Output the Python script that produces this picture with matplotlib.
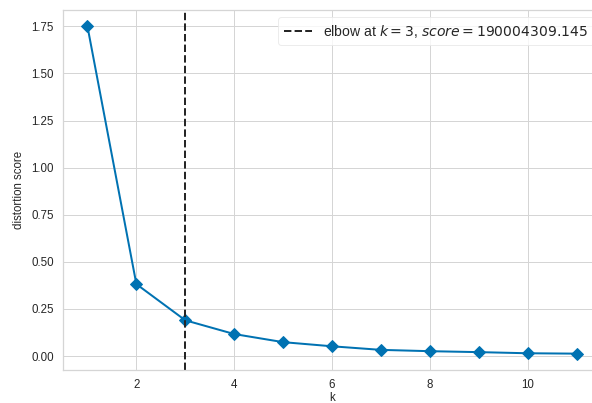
import matplotlib as mpl
mpl.use("Agg")
import matplotlib.pyplot as plt
import numpy as np

# distortion score per k (in units of 1e9, offset text is cropped in the original)
k_values = [1, 2, 3, 4, 5, 6, 7, 8, 9, 10, 11]
distortion = [1.750, 0.382, 0.190, 0.117, 0.074, 0.052, 0.033, 0.026, 0.021, 0.015, 0.013]
elbow_k = 3
elbow_score = 190004309.145
yticks = [0.00, 0.25, 0.50, 0.75, 1.00, 1.25, 1.50, 1.75]

mpl.rcParams.update({
    "font.family": ["Liberation Sans", "DejaVu Sans"],
    "mathtext.fontset": "dejavusans",
    "axes.edgecolor": "#d5d5d5",
    "axes.linewidth": 1.25,
    "grid.color": "#d5d5d5",
    "grid.linewidth": 1.0,
    "text.color": "#262626",
    "xtick.color": "#262626",
    "ytick.color": "#262626",
    "axes.labelcolor": "#262626",
})

fig = plt.figure(figsize=(592 / 72, 403 / 72), dpi=72)
ax = fig.add_axes([63 / 592, 33 / 403, 538 / 592, 360 / 403])

ax.plot(k_values, distortion, marker="D", color="#0072B2", lw=2, markersize=8)
ax.axvline(elbow_k, color="#262626", ls="--", lw=2,
           label=f"elbow at $k={elbow_k}$, $score={elbow_score:.3f}$")

ax.set_xlim(0.5, 11.5)
ax.set_yticks(yticks)
ax.yaxis.set_major_formatter(mpl.ticker.FormatStrFormatter("%.2f"))
ax.tick_params(length=0, labelsize=11.5, pad=9)
ax.grid(True)
ax.set_axisbelow(True)
ax.set_xlabel("k", fontsize=11.5, labelpad=1)
ax.set_ylabel("distortion score", fontsize=11.5, labelpad=6)

leg = ax.legend(loc="upper right", fontsize=14, frameon=True, handlelength=2)
leg.get_frame().set_edgecolor("#e8e8e8")

fig.savefig("out.png", dpi=72)
